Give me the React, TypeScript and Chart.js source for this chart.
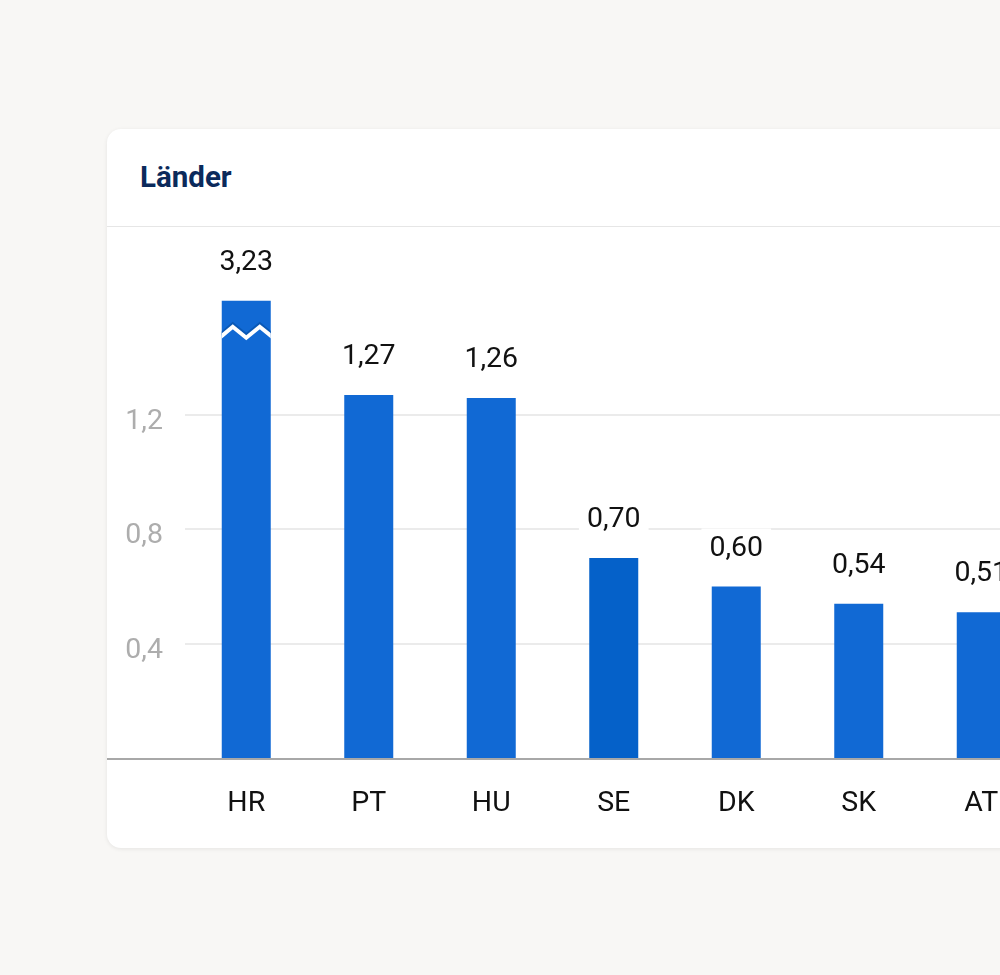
import React, { useEffect, useRef } from "react";
import { Chart, registerables } from "chart.js";

Chart.register(...registerables);

const categories = ["HR", "PT", "HU", "SE", "DK", "SK", "AT"];
const values = [3.23, 1.27, 1.26, 0.7, 0.6, 0.54, 0.51];
const displayCap = 1.6;
const yTicks = [0.4, 0.8, 1.2];
const yMax = 1.858;
const highlightIndex = 3;

const FONT = "Roboto, 'Noto Sans', sans-serif";
const fmt = (v: number, d: number) => v.toFixed(d).replace(".", ",");

const valueLabelPlugin = {
  id: "valueLabels",
  afterDatasetsDraw(chart: any) {
    const { ctx, chartArea } = chart;
    const meta = chart.getDatasetMeta(0);
    ctx.save();
    // broken-axis zigzag on capped bars
    meta.data.forEach((el: any, i: number) => {
      if (values[i] <= displayCap) return;
      const half = el.width / 2;
      const left = el.x - half;
      const top = el.y;
      ctx.save();
      ctx.beginPath();
      ctx.rect(left, top, el.width, el.base - top);
      ctx.clip();
      const pts = [
        [-2, 37],
        [11, 26],
        [24.5, 37],
        [38, 26],
        [51.5, 37],
      ];
      const path = (dy: number) => {
        ctx.beginPath();
        pts.forEach(([px, py], k) => {
          const x = left + (px / 49) * el.width;
          const y = top + py + dy;
          if (k === 0) ctx.moveTo(x, y);
          else ctx.lineTo(x, y);
        });
      };
      ctx.strokeStyle = "#0a58b5";
      ctx.lineWidth = 3;
      path(-3);
      ctx.stroke();
      ctx.strokeStyle = "#ffffff";
      ctx.lineWidth = 4;
      path(0);
      ctx.stroke();
      ctx.restore();
    });
    // value labels
    ctx.font = `400 28.5px ${FONT}`;
    ctx.textAlign = "center";
    ctx.textBaseline = "middle";
    meta.data.forEach((el: any, i: number) => {
      const txt = fmt(values[i], 2);
      const w = ctx.measureText(txt).width + 16;
      const y = el.y - 40;
      ctx.fillStyle = "#ffffff";
      ctx.fillRect(el.x - w / 2, y - 18, w, 36);
      ctx.fillStyle = "#111111";
      ctx.fillText(txt, el.x, y + 2);
    });
    // baseline
    ctx.strokeStyle = "#a8a8a8";
    ctx.lineWidth = 2;
    ctx.beginPath();
    ctx.moveTo(0, chartArea.bottom + 1);
    ctx.lineTo(chart.width, chartArea.bottom + 1);
    ctx.stroke();
    ctx.restore();
  },
};

function BarChart() {
  const ref = useRef<HTMLCanvasElement | null>(null);
  useEffect(() => {
    if (!ref.current) return;
    const chart = new Chart(ref.current, {
      type: "bar",
      data: {
        labels: categories,
        datasets: [
          {
            data: values.map((v) => Math.min(v, displayCap)),
            backgroundColor: values.map((_, i) =>
              i === highlightIndex ? "#0561c9" : "#1169d4"
            ),
            borderWidth: 0,
            barPercentage: 0.4,
            categoryPercentage: 1,
          },
        ],
      },
      options: {
        responsive: false,
        animation: false,
        layout: { padding: { top: 0, right: 164.5, left: 0, bottom: 0 } },
        plugins: {
          legend: { display: false },
          tooltip: { enabled: false },
          title: { display: false },
        },
        scales: {
          x: {
            grid: { display: false, drawTicks: false },
            border: { display: false },
            ticks: {
              color: "#111111",
              font: { family: FONT, size: 28.5 },
              padding: 29,
              maxRotation: 0,
            },
            afterFit: (s: any) => {
              s.height = 90;
              s.paddingLeft = 0;
              s.paddingRight = 0;
            },
          },
          y: {
            min: 0,
            max: yMax,
            grid: { color: "#ebebeb", lineWidth: 2, drawTicks: false },
            border: { display: false },
            ticks: {
              color: "#adadad",
              font: { family: FONT, size: 28.5 },
              padding: 22,
              labelOffset: 7,
              callback: (v: any) => fmt(Number(v), 1),
            },
            afterBuildTicks: (s: any) => {
              s.ticks = yTicks.map((v) => ({ value: v }));
            },
            afterFit: (s: any) => {
              s.width = 78;
              s.paddingTop = 0;
              s.paddingBottom = 0;
            },
          },
        },
      },
      plugins: [valueLabelPlugin],
    });
    return () => chart.destroy();
  }, []);
  return <canvas ref={ref} width={1100} height={621} style={{ display: "block", width: 1100, height: 621 }} />;
}

export default function App() {
  return (
    <div
      style={{
        position: "fixed",
        inset: 0,
        background: "#f8f7f5",
        overflow: "hidden",
        fontFamily: FONT,
      }}
    >
      <div
        style={{
          position: "absolute",
          left: 107,
          top: 129,
          width: 1100,
          height: 719,
          background: "#ffffff",
          borderRadius: 14,
          boxShadow: "0 1px 4px rgba(0,0,0,0.08)",
          overflow: "hidden",
        }}
      >
        <div
          style={{
            height: 97,
            lineHeight: "97px",
            paddingLeft: 33,
            borderBottom: "1px solid #e6e6e6",
            color: "#0b2a5b",
            fontWeight: 700,
            fontSize: 29.5,
            boxSizing: "content-box",
          }}
        >
          Länder
        </div>
        <BarChart />
      </div>
    </div>
  );
}
